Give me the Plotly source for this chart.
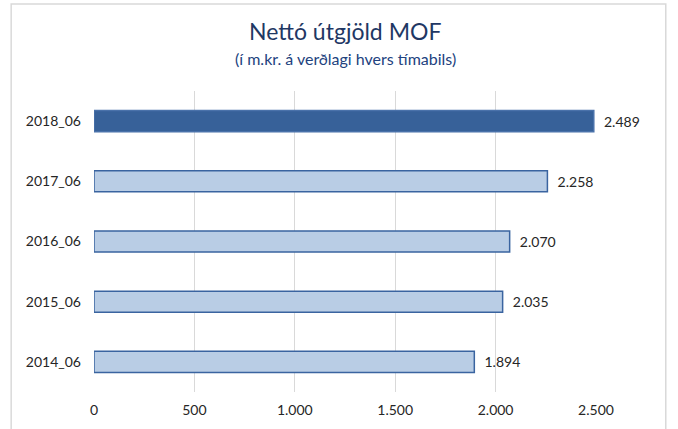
import plotly.graph_objects as go

categories = ["2014_06", "2015_06", "2016_06", "2017_06", "2018_06"]
values = [1894, 2035, 2070, 2258, 2489]
fill_colors = ["#B9CDE5", "#B9CDE5", "#B9CDE5", "#B9CDE5", "#376199"]
line_colors = ["#3A64A0", "#3A64A0", "#3A64A0", "#3A64A0", "#4A72AA"]
tick_vals = [0, 500, 1000, 1500, 2000, 2500]

fig = go.Figure(go.Bar(
    y=categories, x=values, orientation="h",
    marker=dict(color=fill_colors, line=dict(color=line_colors, width=1.5)),
    width=0.35,
    texttemplate="\u00a0\u00a0%{x:,d}", textposition="outside",
    textfont=dict(family="Lato", size=14, color="#262626"),
    cliponaxis=False,
    hoverinfo="skip",
))

fig.update_layout(
    width=678, height=429,
    margin=dict(l=94, r=82, t=91, b=37),
    paper_bgcolor="white", plot_bgcolor="white",
    separators=",.",
    showlegend=False,
    xaxis=dict(range=[0, 2500], tickvals=tick_vals, tickformat=",d",
               showgrid=True, gridcolor="#D9D9D9", gridwidth=1,
               zeroline=False, showline=False, ticks="", ticklabelstandoff=8,
               tickfont=dict(family="Lato", size=14, color="#262626")),
    yaxis=dict(categoryorder="array", categoryarray=categories,
               range=[-0.5, 4.5], showgrid=False, zeroline=False,
               ticks="", ticklen=0, ticklabelstandoff=12,
               tickfont=dict(family="Lato", size=14, color="#262626")),
    shapes=[dict(type="rect", xref="paper", yref="paper",
                 x0=-0.165, x1=1.139, y0=-0.2, y1=1.289,
                 line=dict(color="#D9D9D9", width=1.5), layer="below")],
    annotations=[
        dict(text="Nettó útgjöld MOF", xref="paper", yref="paper",
             x=0.5, y=(392 - 31) / 301, xanchor="center", yanchor="middle",
             showarrow=False, font=dict(family="Lato", size=23, color="#1F3864")),
        dict(text="(í m.kr. á verðlagi hvers tímabils)", xref="paper", yref="paper",
             x=0.5, y=(392 - 58) / 301, xanchor="center", yanchor="middle",
             showarrow=False, font=dict(family="Lato", size=16, color="#22427E")),
    ],
)

fig.write_html("out.html", config={"displayModeBar": False},
               post_script="document.body.style.margin='0px';")
